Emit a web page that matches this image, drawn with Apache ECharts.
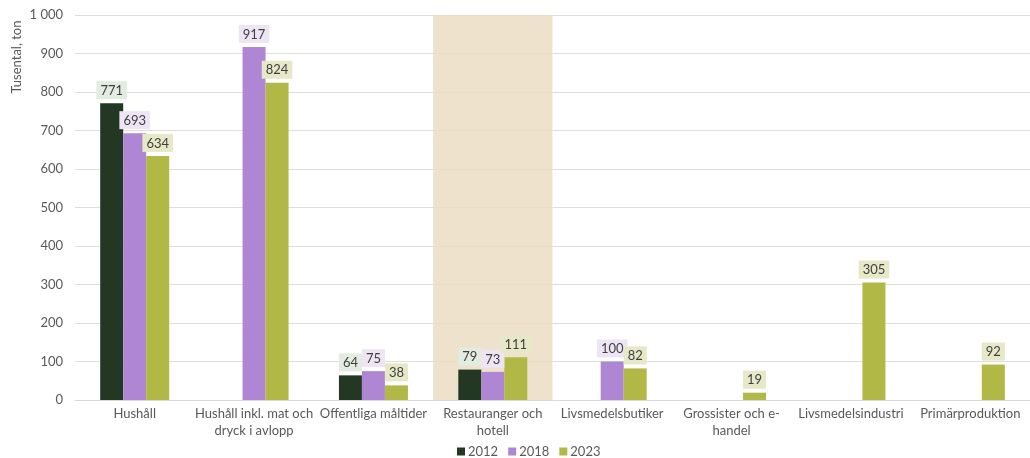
<!DOCTYPE html>
<html>
<head>
<meta charset="utf-8">
<script src="https://cdn.jsdelivr.net/npm/echarts@6/dist/echarts.min.js"></script>
<style>
  html, body { margin: 0; padding: 0; background: #ffffff; }
  #chart { width: 1030px; height: 458px; }
</style>
</head>
<body>
<div id="chart"></div>
<script>
// Food waste per sector, thousand tonnes
const categories = [
  'Hushåll',
  'Hushåll inkl. mat och\ndryck i avlopp',
  'Offentliga måltider',
  'Restauranger och\nhotell',
  'Livsmedelsbutiker',
  'Grossister och e-\nhandel',
  'Livsmedelsindustri',
  'Primärproduktion'
];
const years = ['2012', '2018', '2023'];
const values2012 = [771, null, 64, 79, null, null, null, null];
const values2018 = [693, 917, 75, 73, 100, null, null, null];
const values2023 = [634, 824, 38, 111, 82, 19, 305, 92];
const highlightCategory = 'Restauranger och\nhotell';
const yTicks = [0, 100, 200, 300, 400, 500, 600, 700, 800, 900, 1000];

const FONT = 'Lato';
const TEXT = '#595959';

const barColors = ['#233822', '#af86d4', '#b1b846'];
const labelBg = ['#e2ece0', '#ede5f4', '#e6e8c7'];
const seriesValues = [values2012, values2018, values2023];

const chart = echarts.init(document.getElementById('chart'), null, { renderer: 'canvas' });

const series = years.map((y, i) => ({
  name: y,
  type: 'bar',
  data: seriesValues[i],
  barWidth: 23,
  barGap: '0%',
  itemStyle: { color: barColors[i] },
  label: {
    show: true,
    position: 'top',
    distance: 4,
    color: '#404040',
    fontFamily: FONT,
    fontSize: 13,
    backgroundColor: labelBg[i],
    padding: [3, 4, 2, 4]
  },
  z: 3
}));

// Shaded band behind the restaurant category; slightly translucent so grid lines show through
series.push({
  name: 'band',
  type: 'bar',
  data: categories.map(c => (c === highlightCategory ? yTicks[yTicks.length - 1] : null)),
  xAxisIndex: 1,
  barWidth: '100%',
  itemStyle: { color: 'rgba(236,222,196,0.87)' },
  silent: true,
  z: 1
});

chart.setOption({
  animation: false,
  textStyle: { fontFamily: FONT },
  grid: { left: 75, top: 15, width: 963, height: 385, containLabel: false },
  legend: {
    data: years,
    top: 440,
    left: 452,
    itemWidth: 8,
    itemHeight: 8,
    itemGap: 10,
    icon: 'rect',
    textStyle: { color: TEXT, fontSize: 13, fontFamily: FONT, padding: [0, 0, 0, -2] }
  },
  xAxis: [
    {
      type: 'category',
      data: categories,
      axisLine: { lineStyle: { color: '#d9d9d9' } },
      axisTick: { show: false },
      axisLabel: { color: TEXT, fontSize: 13, fontFamily: FONT, interval: 0, margin: 5, lineHeight: 17 }
    },
    {
      type: 'category',
      data: categories,
      show: false
    }
  ],
  yAxis: {
    type: 'value',
    min: yTicks[0],
    max: yTicks[yTicks.length - 1],
    interval: 100,
    axisLine: { show: false },
    axisTick: { show: false },
    splitLine: { lineStyle: { color: '#dedede', width: 1 } },
    axisLabel: {
      color: TEXT,
      fontSize: 13,
      fontFamily: FONT,
      margin: 12,
      formatter: v => String(v).replace(/\B(?=(\d{3})+(?!\d))/g, ' ')
    }
  },
  graphic: [{
    type: 'text',
    x: 17,
    y: 57,
    rotation: Math.PI / 2,
    style: {
      text: 'Tusental, ton',
      fill: TEXT,
      fontSize: 13,
      fontFamily: FONT,
      align: 'center',
      verticalAlign: 'middle'
    }
  }],
  series: series
});
</script>
</body>
</html>
